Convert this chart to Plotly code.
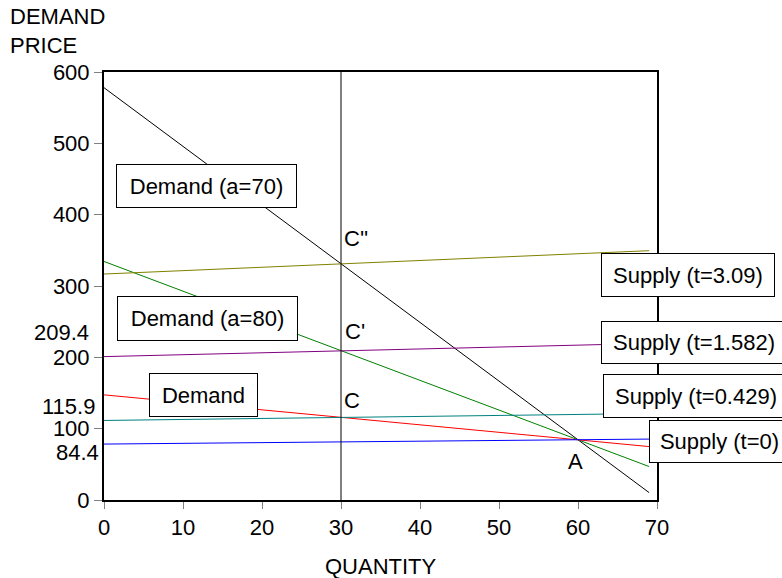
import plotly.graph_objects as go

# ---- data ----
quantity = [0, 69]
demand_a70 = [578.0, 10.4]      # black
demand_a80 = [334.4, 46.9]      # green
demand_base = [147.4, 74.9]     # red
supply_t0 = [78.4, 85.4]        # blue
supply_t0429 = [111.5, 121.2]   # teal
supply_t1582 = [201.0, 219.5]   # purple
supply_t309 = [316.8, 349.5]    # olive
quantity_mark = 30
x_ticks = [0, 10, 20, 30, 40, 50, 60, 70]
y_ticks = [0, 100, 200, 300, 400, 500, 600]
extra_price_labels = ["209.4", "115.9", "84.4"]
extra_price_values = [209.4, 115.9, 84.4]

FONT = "Liberation Sans, Arial, sans-serif"

# plot area in pixels
L, R, T, B = 104, 657, 72, 500
W, H = 782, 578


def px(xp, yp):
    return (xp - L) / (R - L), (B - yp) / (B - T)


fig = go.Figure()

series = [
    (demand_a70, "black"),
    (demand_a80, "#008000"),
    (demand_base, "#ff0000"),
    (supply_t309, "#808000"),
    (supply_t1582, "#800080"),
    (supply_t0429, "#008080"),
    (supply_t0, "#0000ff"),
]
for ys, col in series:
    fig.add_trace(go.Scatter(x=quantity, y=ys, mode="lines",
                             line=dict(color=col, width=1), showlegend=False,
                             hoverinfo="skip"))

fig.add_shape(type="line", xref="x", yref="y", x0=quantity_mark, x1=quantity_mark,
              y0=y_ticks[0], y1=y_ticks[-1], line=dict(color="black", width=1))

annotations = []

# boxed labels: (text, left, top, right, bottom) in pixels
boxes = [
    ("Demand (a=70)", 116, 164, 297, 208),
    ("Demand (a=80)", 117, 296, 298, 341),
    ("Demand", 149, 373, 258, 417),
    ("Supply (t=3.09)", 601, 253, 775, 297),
    ("Supply (t=1.582)", 601, 321, 787, 364),
    ("Supply (t=0.429)", 603, 374, 789, 418),
    ("Supply (t=0)", 649, 420, 790, 463),
]
for txt, x0, y0, x1, y1 in boxes:
    cx, cy = px((x0 + x1) / 2, (y0 + y1) / 2)
    annotations.append(dict(
        text=txt, xref="paper", yref="paper", x=cx, y=cy,
        xanchor="center", yanchor="middle", showarrow=False,
        width=x1 - x0 - 2, height=y1 - y0 - 2, borderpad=0,
        bordercolor="black", borderwidth=1, bgcolor="white",
        font=dict(family=FONT, size=22, color="black"), align="center"))

# point letters
letters = [("C''", 356, 238), ("C'", 355, 331), ("C", 352, 400), ("A", 575, 461)]
for txt, xp, yp in letters:
    cx, cy = px(xp, yp)
    annotations.append(dict(text=txt, xref="paper", yref="paper", x=cx, y=cy,
                            xanchor="center", yanchor="middle", showarrow=False,
                            font=dict(family=FONT, size=22, color="black")))

# extra price labels next to the y axis
shifts = [18, 11, -13]
rights = [91, 97, 101]
for lab, val, sh, rp in zip(extra_price_labels, extra_price_values, shifts, rights):
    annotations.append(dict(text=lab, xref="paper", yref="y", x=(rp - L) / (R - L), y=val,
                            xanchor="right", yanchor="middle", yshift=sh, showarrow=False,
                            font=dict(family=FONT, size=22, color="black")))

# axis titles
cx, cy = px(8, 17)
annotations.append(dict(text="DEMAND", xref="paper", yref="paper", x=cx, y=cy,
                        xanchor="left", yanchor="middle", showarrow=False,
                        font=dict(family=FONT, size=22, color="black")))
cx, cy = px(8, 46)
annotations.append(dict(text="PRICE", xref="paper", yref="paper", x=cx, y=cy,
                        xanchor="left", yanchor="middle", showarrow=False,
                        font=dict(family=FONT, size=22, color="black")))
cx, cy = px(381, 566)
annotations.append(dict(text="QUANTITY", xref="paper", yref="paper", x=cx, y=cy,
                        xanchor="center", yanchor="middle", showarrow=False,
                        font=dict(family=FONT, size=22, color="black")))

fig.update_layout(
    width=W, height=H,
    margin=dict(l=L, r=W - R, t=T, b=H - B, pad=0),
    paper_bgcolor="white", plot_bgcolor="white",
    font=dict(family=FONT, size=22, color="black"),
    annotations=annotations,
    showlegend=False,
)
fig.update_xaxes(range=[0, 70], tickvals=x_ticks, ticks="outside", ticklen=7,
                 tickcolor="#808080", tickwidth=1, showline=True, linecolor="black",
                 linewidth=2, mirror=True, showgrid=False, zeroline=False,
                 tickfont=dict(size=22))
fig.update_yaxes(range=[0, 600], tickvals=y_ticks, ticks="outside", ticklen=8,
                 tickcolor="#808080", tickwidth=1, showline=True, linecolor="black",
                 linewidth=2, mirror=True, showgrid=False, zeroline=False,
                 tickfont=dict(size=22))

fig.write_html("out.html", config={"displayModeBar": False},
               post_script="document.body.style.margin='0';document.body.style.overflow='hidden';")
